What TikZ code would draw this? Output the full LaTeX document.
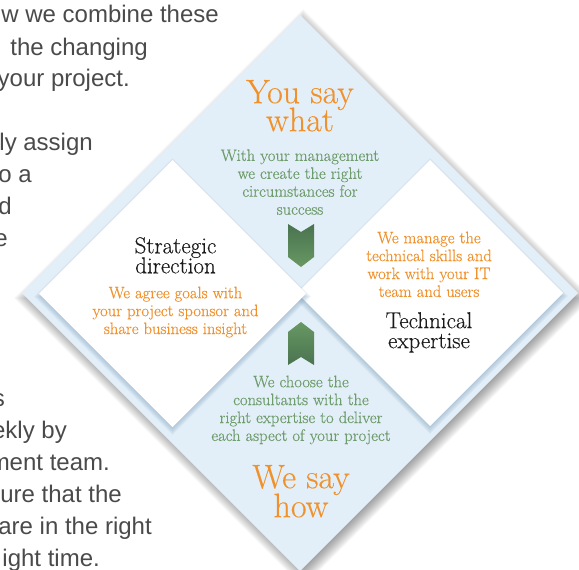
\documentclass[tikz,border=0pt]{standalone}
\usepackage{fontspec}
\newfontfamily\prosefont{Liberation Sans}
\newfontfamily\cardfont{Latin Modern Roman}[FakeBold=0.5]
\newfontfamily\titlefont{Latin Modern Roman}[FakeBold=0.3]

\definecolor{panelblue}{HTML}{E3EFF8}
\definecolor{accent}{HTML}{F0912C}
\definecolor{leaf}{HTML}{6E9C6C}
\definecolor{chevdark}{HTML}{4A7350}
\definecolor{chevlight}{HTML}{689863}
\definecolor{prose}{HTML}{4A4A4A}
\definecolor{rimblue}{HTML}{7FA2BF}
\definecolor{ink}{HTML}{1A1A1A}

\tikzset{
  rhomb/.style n args={3}{insert path={({#1-(#3)},{#2}) -- ({#1},{#2-(#3)}) -- ({#1+(#3)},{#2}) -- ({#1},{#2+(#3)}) -- cycle}},
  prosetext/.style={font=\prosefont\fontsize{24}{28}\selectfont, text=prose, anchor=base east, inner sep=0},
  bigtitle/.style={font={\titlefont\fontsize{34}{28}\selectfont\lineskiplimit=-30pt}, text=accent, align=center, inner sep=0, anchor=north},
  boxtitle/.style={font={\titlefont\fontsize{23}{20}\selectfont\lineskiplimit=-30pt}, text=ink, align=center, inner sep=0, anchor=north},
  bodytext/.style={font={\cardfont\fontsize{16.6}{17.9}\selectfont}, align=center, inner sep=0, anchor=north},
  chevron/.style={top color=chevdark, bottom color=chevlight},
  chevronup/.style={top color=chevlight, bottom color=chevdark},
}

\begin{document}
\begin{tikzpicture}[x=1pt, y=-1pt]
\useasboundingbox (0,0) rectangle (579,570);

% running text of the page, left column
\foreach \t/\x/\y [count=\i] in {
  w we combine these/219/23,
  the changing/148/55,
  your project./130/86,
  ly assign/93/150,
  o a/32/182,
  d/12/214,
  e/8/246,
  s/5/406,
  ekly by/67/438,
  ment team./110/470,
  ure that the/122/502,
  are in the right/152/534,
  ight time./100/566}
  { \node[prosetext] (para\i) at (\x,\y) {\t}; }

% soft drop shadow of the large panel
\foreach \k in {0,...,19}
  \fill[black, opacity=0.025, rhomb={303}{298}{270+\k}];
% large panel
\fill[panelblue, rhomb={300}{293}{278}];

% right card: rim shadow, then face
\foreach \k in {0,...,7}
  \fill[rimblue, opacity=0.075, rhomb={430}{296}{131+\k}];
\fill[white, rhomb={430}{293}{133}];

% left card: rim shadow, then face
\foreach \k in {0,...,7}
  \fill[rimblue, opacity=0.075, rhomb={172.5}{296.5}{131.5+\k}];
\fill[white, rhomb={172.5}{293.5}{133.5}];

% chevrons
\shade[chevron] (288,224) -- (301,232) -- (314,224) -- (314,257) -- (301,267) -- (288,257) -- cycle;
\shade[chevronup] (288,332) -- (301,322) -- (314,332) -- (314,365) -- (301,357) -- (288,365) -- cycle;

% texts
\node[bigtitle] (yousay) at (300,79.8) {You say\\what};
\node[bodytext, text=leaf] (mgmt) at (300,149.2) {With your management\\we create the right\\circumstances for\\success};
\node[boxtitle] (strategic) at (175.5,237) {Strategic\\direction};
\node[bodytext, text=accent] (goals) at (175.5,286.5) {We agree goals with\\your project sponsor and\\share business insight};
\node[bodytext, text=accent] (skills) at (429,231.5) {We manage the\\technical skills and\\work with your IT\\team and users};
\node[boxtitle] (technical) at (429,312) {Technical\\expertise};
\node[bodytext, text=leaf] (choose) at (301,375.5) {We choose the\\consultants with the\\right expertise to deliver\\each aspect of your project};
\node[bigtitle, font={\titlefont\fontsize{34}{29}\selectfont\lineskiplimit=-30pt}] (wesay) at (301,464.8) {We say\\how};
\end{tikzpicture}
\end{document}
